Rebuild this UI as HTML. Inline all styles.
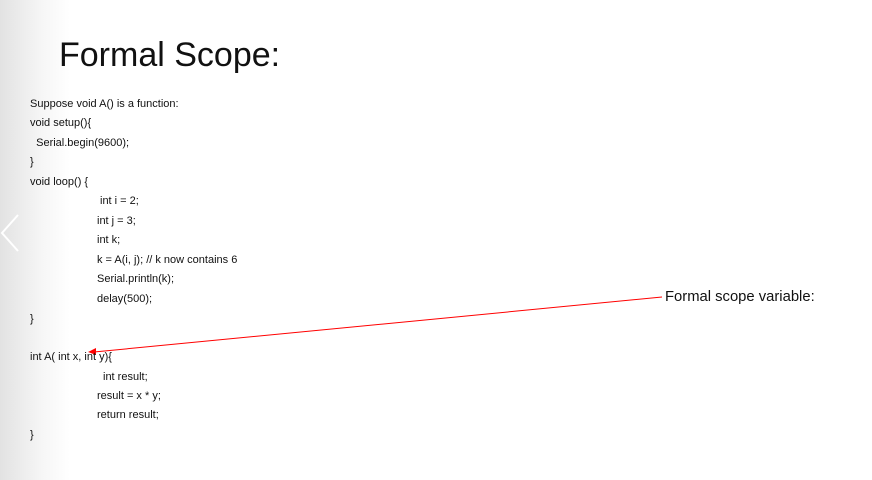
<!DOCTYPE html>
<html><head><meta charset="utf-8"><style>
body{margin:0;width:872px;height:480px;overflow:hidden;background:#fff;position:relative;font-family:"Liberation Sans",sans-serif}
#grad{position:absolute;left:0;top:0;width:70px;height:480px;background:linear-gradient(to right,#e2e2e2,#f6f6f6 60%,#fff)}
.t{position:absolute;font-size:11px;color:#111;white-space:pre;line-height:12px}
h1{position:absolute;left:59px;top:36px;margin:0;font-weight:normal;font-size:34px;color:#111;letter-spacing:0}
</style></head><body>
<div id="grad"></div>
<svg style="position:absolute;left:0;top:0" width="872" height="480">
<polyline points="18,215 2,233 18,251" fill="none" stroke="#fff" stroke-width="2"/>
<line x1="662" y1="297" x2="94" y2="352" stroke="#f00" stroke-width="1"/>
<polygon points="88,352 96,348 96,355" fill="#f00"/>
</svg>
<h1>Formal Scope:</h1>
<div class="t" style="left:30px;top:98px">Suppose void A() is a function:</div>
<div class="t" style="left:30px;top:117px">void setup(){</div>
<div class="t" style="left:30px;top:137px">  Serial.begin(9600);</div>
<div class="t" style="left:30px;top:156px">}</div>
<div class="t" style="left:30px;top:176px">void loop() {</div>
<div class="t" style="left:100px;top:195px">int i = 2;</div>
<div class="t" style="left:97px;top:215px">int j = 3;</div>
<div class="t" style="left:97px;top:234px">int k;</div>
<div class="t" style="left:97px;top:254px">k = A(i, j); // k now contains 6</div>
<div class="t" style="left:97px;top:273px">Serial.println(k);</div>
<div class="t" style="left:97px;top:293px">delay(500);</div>
<div class="t" style="left:30px;top:313px">}</div>
<div class="t" style="left:30px;top:351px">int A( int x, int y){</div>
<div class="t" style="left:103px;top:371px">int result;</div>
<div class="t" style="left:97px;top:390px">result = x * y;</div>
<div class="t" style="left:97px;top:409px">return result;</div>
<div class="t" style="left:30px;top:429px">}</div>
<div style="position:absolute;left:665px;top:289px;font-size:14.8px;color:#111;white-space:pre">Formal scope variable:</div>
</body></html>
